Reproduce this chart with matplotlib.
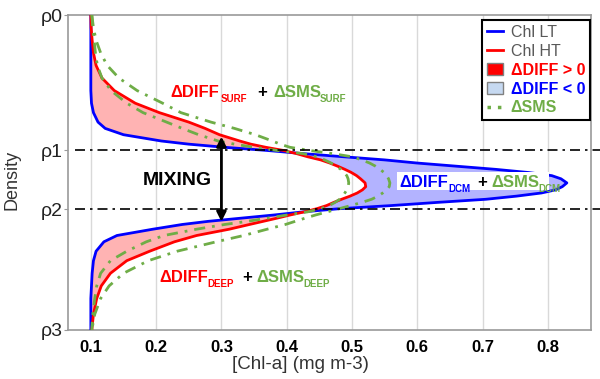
import matplotlib.pyplot as plt
from matplotlib.lines import Line2D
from matplotlib.patches import Patch, Rectangle
import numpy as np

plt.rcParams['font.family'] = ['Liberation Sans', 'DejaVu Sans']

# density levels: 0 = rho0 (top), 1 = rho3 (bottom)
density = [0.00, 0.04, 0.08, 0.12, 0.16, 0.20, 0.24, 0.28, 0.31, 0.34, 0.36, 0.38,
           0.40, 0.41, 0.42, 0.43, 0.44, 0.45, 0.46, 0.47, 0.48, 0.49, 0.50, 0.51,
           0.52, 0.533, 0.545, 0.555, 0.565, 0.575, 0.585, 0.595, 0.605, 0.615,
           0.625, 0.635, 0.645, 0.655, 0.665, 0.68, 0.70, 0.72, 0.75, 0.78, 0.82,
           0.86, 0.90, 0.95, 1.00]

# Chl LT (blue)
chl_lt = [0.100, 0.100, 0.100, 0.100, 0.100, 0.100, 0.100, 0.101, 0.104, 0.111, 0.122, 0.150,
          0.208, 0.250, 0.305, 0.370, 0.425, 0.487, 0.550, 0.600, 0.660, 0.720, 0.770, 0.806,
          0.820, 0.829, 0.822, 0.812, 0.790, 0.752, 0.705, 0.630, 0.560, 0.480,
          0.425, 0.380, 0.330, 0.280, 0.240, 0.195, 0.140, 0.120, 0.108, 0.104, 0.102,
          0.101, 0.100, 0.100, 0.100]

# Chl HT (red)
chl_ht = [0.100, 0.1005, 0.102, 0.104, 0.108, 0.117, 0.136, 0.168, 0.205, 0.250, 0.275, 0.297,
          0.328, 0.345, 0.368, 0.395, 0.415, 0.432, 0.452, 0.466, 0.478, 0.489, 0.499, 0.507,
          0.513, 0.520, 0.521, 0.516, 0.508, 0.497, 0.484, 0.472, 0.461, 0.446,
          0.427, 0.405, 0.385, 0.364, 0.343, 0.312, 0.262, 0.228, 0.190, 0.155, 0.130,
          0.116, 0.109, 0.104, 0.1015]

# delta SMS, inner and outer green curves
sms_in = [0.1015, 0.103, 0.105, 0.107, 0.110, 0.117, 0.131, 0.155, 0.180, 0.216, 0.240, 0.265,
          0.295, 0.320, 0.350, 0.385, 0.425, 0.446, 0.458, 0.468, 0.476, 0.483, 0.488, 0.492,
          0.494, 0.495, 0.494, 0.492, 0.489, 0.486, 0.481, 0.474, 0.465, 0.452,
          0.432, 0.400, 0.370, 0.340, 0.305, 0.262, 0.212, 0.185, 0.155, 0.130, 0.115,
          0.109, 0.106, 0.103, 0.1015]

sms_out = [0.1015, 0.104, 0.108, 0.115, 0.125, 0.143, 0.171, 0.210, 0.238, 0.284, 0.320, 0.352,
           0.378, 0.390, 0.405, 0.435, 0.470, 0.500, 0.515, 0.527, 0.536, 0.543, 0.549, 0.553,
           0.556, 0.558, 0.557, 0.553, 0.547, 0.540, 0.530, 0.515, 0.498, 0.480,
           0.462, 0.444, 0.428, 0.413, 0.398, 0.370, 0.334, 0.292, 0.232, 0.188, 0.150,
           0.128, 0.115, 0.106, 0.1015]

rho_pos = [0.0, 0.429, 0.616, 1.0]
rho_labels = ['ρ0', 'ρ1', 'ρ2', 'ρ3']
x_ticks = [0.1, 0.2, 0.3, 0.4, 0.5, 0.6, 0.7, 0.8]

green = '#6FAD47'
gray = '#9a9a9a'

fig = plt.figure(figsize=(6, 3.79), dpi=100)
ax = fig.add_axes([0.1133, 0.1293, 0.8717, 0.8311])

d = np.array(density)
lt = np.array(chl_lt)
ht = np.array(chl_ht)

# shaded differences
ax.fill_betweenx(d, lt, ht, where=ht >= lt, interpolate=True, facecolor='#FFB3B3', lw=0, zorder=2)
ax.fill_betweenx(d, lt, ht, where=lt > ht, interpolate=True, facecolor='#B3B3FF', lw=0, zorder=2)

ax.plot(chl_lt, density, color='blue', lw=2, zorder=3)
ax.plot(chl_ht, density, color='red', lw=2, zorder=3)

sms_ls = (0, (4, 2.5, 1, 2.5))
ax.plot(sms_in, density, color=green, lw=2, ls=sms_ls, zorder=4)
ax.plot(sms_out, density, color=green, lw=2, ls=sms_ls, zorder=4)

# mixing layer limits
for r in rho_pos[1:3]:
    ax.axhline(r, xmin=0.013, xmax=1.017, color='black', lw=1.2,
               ls=(0, (6, 3, 1.5, 3)), clip_on=False, zorder=5)

# mixing arrow
ax.annotate('', xy=(0.3, 0.386), xytext=(0.3, 0.656),
            arrowprops=dict(arrowstyle='<|-|>', color='black', lw=2,
                            mutation_scale=14, shrinkA=0, shrinkB=0), zorder=6)
ax.text(0.233, 0.524, 'MIXING', fontsize=14, fontweight='bold', ha='center', va='center', zorder=6)


def piece(x, y, s, color, size=12, ha='left'):
    ax.text(x, y, s, color=color, fontsize=size, fontweight='bold',
            ha=ha, va='baseline', zorder=7)


# surface labels
piece(0.2225, 0.260, 'ΔDIFF', 'red')
piece(0.299, 0.275, 'SURF', 'red', size=7)
piece(0.362, 0.260, '+', 'black', ha='center')
piece(0.379, 0.260, 'ΔSMS', green)
piece(0.451, 0.275, 'SURF', green, size=7)

# DCM labels on a white strip
ax.add_patch(Rectangle((0.569, 0.497), 0.232, 0.058, facecolor='white',
                       edgecolor='none', zorder=6))
piece(0.573, 0.545, 'ΔDIFF', 'blue')
piece(0.647, 0.561, 'DCM', 'blue', size=7)
piece(0.699, 0.545, '+', 'black', ha='center')
piece(0.714, 0.545, 'ΔSMS', green)
piece(0.786, 0.561, 'DCM', green, size=7)

# deep labels
piece(0.2057, 0.847, 'ΔDIFF', 'red')
piece(0.279, 0.862, 'DEEP', 'red', size=7)
piece(0.339, 0.847, '+', 'black', ha='center')
piece(0.354, 0.847, 'ΔSMS', green)
piece(0.425, 0.862, 'DEEP', green, size=7)

ax.set_xlim(0.065, 0.866)
ax.set_ylim(1, 0)

ax.set_xticks(x_ticks, [f'{v:.1f}' for v in x_ticks], fontsize=12, fontweight='bold')
ax.set_yticks(rho_pos, rho_labels, fontsize=14, color='#222222')
ax.tick_params(axis='x', length=0, pad=7)
ax.tick_params(axis='y', length=3, color=gray, pad=1)

ax.grid(axis='x', color='#d9d9d9', lw=1)
ax.set_axisbelow(True)
for sp in ax.spines.values():
    sp.set_color(gray)
    sp.set_linewidth(1.2)

ax.set_xlabel('[Chl-a] (mg m-3)', fontsize=13.5, color='#333333')
ax.xaxis.set_label_coords(0.445, -0.083)
ax.set_ylabel('Density', fontsize=13, color='#333333')
ax.yaxis.set_label_coords(-0.09, 0.476)

handles = [Line2D([], [], color='blue', lw=2),
           Line2D([], [], color='red', lw=2),
           Patch(facecolor='red', edgecolor='gray'),
           Patch(facecolor='#C6D9F1', edgecolor='gray'),
           Line2D([], [], color=green, lw=2.5, ls=(0, (1, 2)))]
labels = ['Chl LT', 'Chl HT', 'ΔDIFF > 0', 'ΔDIFF < 0', 'ΔSMS']
leg = ax.legend(handles, labels, loc='upper right', bbox_to_anchor=(0.998, 0.985),
                borderaxespad=0, fancybox=False, edgecolor='black', framealpha=1,
                fontsize=11.5, handlelength=1.0, handletextpad=0.5,
                labelspacing=0.25, borderpad=0.3)
leg.get_frame().set_linewidth(1.5)
leg.set_zorder(8)
for t, c, w in zip(leg.get_texts(), ['#595959', '#595959', 'red', 'blue', green],
                   ['normal', 'normal', 'bold', 'bold', 'bold']):
    t.set_color(c)
    t.set_fontweight(w)

fig.savefig('out.png', dpi=100)
